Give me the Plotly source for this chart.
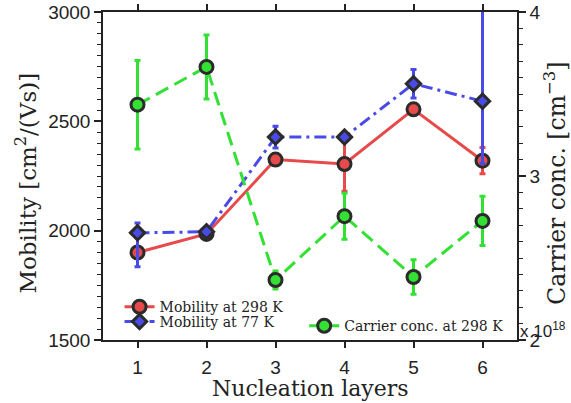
import plotly.graph_objects as go

layers = [1, 2, 3, 4, 5, 6]
mob298 = [1900, 1985, 2325, 2305, 2555, 2320]
mob298_err = [20, 15, 20, 125, 20, 60]
mob77 = [1990, 1995, 2428, 2428, 2672, 2592]
mob77_err_plus = [45, 15, 50, 20, 65, 450]
mob77_err_minus = [155, 15, 50, 20, 65, 285]
carrier = [3.435, 3.665, 2.366, 2.755, 2.384, 2.726]
carrier_err = [0.27, 0.195, 0.055, 0.14, 0.105, 0.15]

RED = "#e64a4a"
BLUE = "#4a4ae6"
GREEN = "#33e033"
EDGE = "#2b2b2b"

fig = go.Figure()

fig.add_trace(go.Scatter(
    x=layers, y=carrier, yaxis="y2", name="Carrier conc. at 298 K",
    mode="lines+markers", legend="legend3",
    line=dict(color=GREEN, width=3, dash="14px,7px"),
    marker=dict(symbol="circle", size=13, color=GREEN, line=dict(color=EDGE, width=3)),
    error_y=dict(type="data", array=carrier_err, color=GREEN, thickness=3, width=3),
))
fig.add_trace(go.Scatter(
    x=layers, y=mob298, name="Mobility at 298 K", mode="lines+markers", legend="legend",
    line=dict(color=RED, width=3),
    marker=dict(symbol="circle", size=13, color=RED, line=dict(color=EDGE, width=3)),
    error_y=dict(type="data", array=mob298_err, color=RED, thickness=3, width=3),
))
fig.add_trace(go.Scatter(
    x=layers, y=mob77, name="Mobility at 77 K", mode="lines+markers", legend="legend2",
    line=dict(color=BLUE, width=3, dash="12px,5px,3px,5px"),
    marker=dict(symbol="diamond", size=11, color=BLUE, line=dict(color=EDGE, width=3)),
    error_y=dict(type="data", symmetric=False, array=mob77_err_plus,
                 arrayminus=mob77_err_minus, color=BLUE, thickness=3, width=3),
))

tickfont = dict(family="Liberation Sans", size=19, color="#222")
titlefont = dict(family="DejaVu Serif", size=22, color="#222")
legfont = dict(family="DejaVu Serif", size=14, color="#222")

fig.update_layout(
    width=571, height=403,
    margin=dict(l=103, r=54, t=12, b=63, autoexpand=False),
    plot_bgcolor="white", paper_bgcolor="white",
    showlegend=True,
    xaxis=dict(
        range=[0.5, 6.5], tickvals=layers, ticks="outside", ticklen=6, tickwidth=1.5,
        tickcolor="#222", showline=True, linewidth=1.5, linecolor="#222", mirror="ticks",
        showgrid=False, zeroline=False, tickfont=tickfont, automargin=False,
        ticklabelstandoff=3,
    ),
    yaxis=dict(
        range=[1500, 3000], tickvals=[1500, 2000, 2500, 3000], ticks="outside", ticklen=7,
        tickwidth=1.5, tickcolor="#222", showline=True, linewidth=1.5, linecolor="#222",
        showgrid=False, zeroline=False, tickfont=tickfont, automargin=False,
        minor=dict(dtick=50, ticks="outside", ticklen=4, tickwidth=1.2, tickcolor="#222", showgrid=False),
    ),
    yaxis2=dict(
        range=[2, 4], tickvals=[2, 3, 4], overlaying="y", side="right", ticks="outside",
        ticklen=7, tickwidth=1.5, tickcolor="#222", showline=True, linewidth=1.5,
        linecolor="#222", showgrid=False, zeroline=False, tickfont=tickfont, automargin=False,
        minor=dict(dtick=0.1, ticks="outside", ticklen=4, tickwidth=1.2, tickcolor="#222", showgrid=False),
    ),
    legend=dict(x=0.040, y=0.149, xanchor="left", yanchor="top",
                bgcolor="rgba(0,0,0,0)", font=legfont),
    legend2=dict(x=0.040, y=0.104, xanchor="left", yanchor="top",
                 bgcolor="rgba(0,0,0,0)", font=legfont),
    legend3=dict(x=0.486, y=0.091, xanchor="left", yanchor="top",
                 bgcolor="rgba(0,0,0,0)", font=legfont),
    annotations=[
        dict(text="x 10<sup>18</sup>", xref="paper", yref="paper", x=1.0, y=0.03,
             xanchor="left", yanchor="middle", xshift=1, showarrow=False,
             font=dict(family="Liberation Sans", size=17, color="#222")),
        dict(text="Nucleation layers", xref="paper", yref="paper", x=0.5, y=-0.149,
             xanchor="center", yanchor="middle", showarrow=False, font=titlefont),
        dict(text="Mobility [cm<sup>2</sup>/(Vs)]", xref="paper", yref="paper",
             x=-0.186, y=0.48, xanchor="center", yanchor="middle", textangle=-90,
             showarrow=False, font=dict(family="DejaVu Serif", size=23, color="#222")),
        dict(text="Carrier conc. [cm<sup>−3</sup>]", xref="paper", yref="paper",
             x=1.094, y=0.479, xanchor="center", yanchor="middle", textangle=-90,
             showarrow=False, font=dict(family="DejaVu Serif", size=23.5, color="#222")),
    ],
)

# remove the browser's default 8px page margin so the figure sits at (0, 0)
fig.write_html("out.html", config={"displayModeBar": False},
               post_script="document.body.style.margin='0px';")
